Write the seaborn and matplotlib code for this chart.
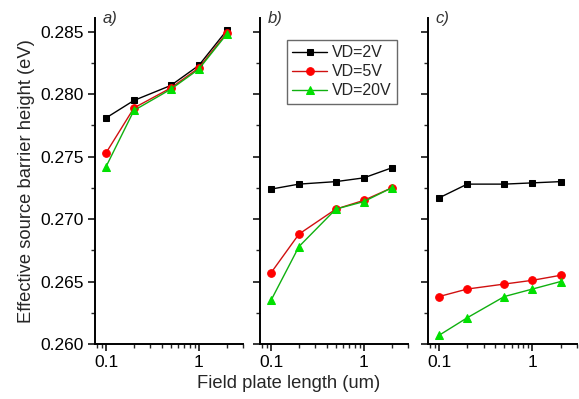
import numpy as np
import pandas as pd
import seaborn as sns
import matplotlib
matplotlib.use("Agg")
import matplotlib.pyplot as plt
from matplotlib.ticker import LogLocator, FixedLocator, MultipleLocator, FixedFormatter, NullFormatter

sns.set_theme(style="ticks")
plt.rcParams['font.family'] = ['Liberation Sans', 'DejaVu Sans']

# Field plate lengths (um)
lengths = [0.1, 0.2, 0.5, 1, 2]
series_names = ["VD=2V", "VD=5V", "VD=20V"]

# Effective source barrier height (eV) per panel
panel_a = {
    "VD=2V": [0.2781, 0.2795, 0.2807, 0.2823, 0.2851],
    "VD=5V": [0.2753, 0.2789, 0.2805, 0.2821, 0.2849],
    "VD=20V": [0.2742, 0.2787, 0.2804, 0.2820, 0.2848],
}
panel_b = {
    "VD=2V": [0.2724, 0.2728, 0.2730, 0.2733, 0.2741],
    "VD=5V": [0.2657, 0.2688, 0.2708, 0.2715, 0.2725],
    "VD=20V": [0.2635, 0.2678, 0.2708, 0.2714, 0.2725],
}
panel_c = {
    "VD=2V": [0.2717, 0.2728, 0.2728, 0.2729, 0.2730],
    "VD=5V": [0.2638, 0.2644, 0.2648, 0.2651, 0.2655],
    "VD=20V": [0.2607, 0.2621, 0.2638, 0.2644, 0.2650],
}
panel_tags = ["a)", "b)", "c)"]

colors = {"VD=2V": "black", "VD=5V": "#ff0000", "VD=20V": "#00e000"}
line_colors = {"VD=2V": "black", "VD=5V": "#d01010", "VD=20V": "#10b010"}
markers = {"VD=2V": "s", "VD=5V": "o", "VD=20V": "^"}
msizes = {"VD=2V": 4.8, "VD=5V": 5.5, "VD=20V": 6.2}

W, H = 579, 399
fig = plt.figure(figsize=(W / 100, H / 100), dpi=100)

boxes = [(95, 148), (260, 148), (428, 149)]
top_px, bot_px = 18, 344

for i, (data, tag, (lx, wd)) in enumerate(zip([panel_a, panel_b, panel_c], panel_tags, boxes)):
    ax = fig.add_axes([lx / W, (H - bot_px) / H, wd / W, (bot_px - top_px) / H])
    ax.set_xscale("log")
    rows = []
    for name in series_names:
        for x, y in zip(lengths, data[name]):
            rows.append({"x": x, "y": y, "s": name})
    df = pd.DataFrame(rows)
    for name in series_names:
        sub = df[df["s"] == name]
        sns.lineplot(data=sub, x="x", y="y", ax=ax, color=line_colors[name],
                     marker=markers[name], markersize=msizes[name],
                     markerfacecolor=colors[name], markeredgecolor=colors[name],
                     linewidth=1.0, label=name if i == 1 else None, legend=False)
    ax.set_xlim(0.076, 3.0)
    ax.set_ylim(0.260, 0.2861)
    ax.xaxis.set_major_locator(FixedLocator([0.1, 1]))
    ax.xaxis.set_major_formatter(FixedFormatter(["0.1", "1"]))
    ax.xaxis.set_minor_locator(LogLocator(base=10, subs=np.arange(2, 10)))
    ax.xaxis.set_minor_formatter(NullFormatter())
    ax.yaxis.set_major_locator(MultipleLocator(0.005))
    ax.yaxis.set_minor_locator(MultipleLocator(0.0025))
    if i == 0:
        ax.set_yticks([0.260, 0.265, 0.270, 0.275, 0.280, 0.285])
        ax.set_yticklabels(["0.260", "0.265", "0.270", "0.275", "0.280", "0.285"])
        ax.set_ylabel("Effective source barrier height (eV)", fontsize=13.2, labelpad=4)
    else:
        ax.set_yticklabels([])
        ax.set_ylabel("")
    ax.set_xlabel("")
    for side in ["top", "right"]:
        ax.spines[side].set_visible(False)
    for side in ["left", "bottom"]:
        ax.spines[side].set_linewidth(1.4)
        ax.spines[side].set_color("black")
    ax.tick_params(which="major", direction="out", length=5, width=1.1, labelsize=12.5, colors="black", pad=3)
    ax.tick_params(which="minor", direction="out", length=3, width=1.0)
    ax.text(0.05, 1.02, tag, transform=ax.transAxes, fontsize=12, style="italic",
            color="#333333", ha="left", va="top", clip_on=False)
    if i == 1:
        leg = ax.legend(loc="upper left", bbox_to_anchor=(0.18, 0.933), fontsize=11.5,
                        frameon=True, fancybox=False, edgecolor="#444444",
                        handlelength=2.2, borderpad=0.35, labelspacing=0.25,
                        handletextpad=0.3, borderaxespad=0.0)
        leg.get_frame().set_linewidth(1.0)

fig.text(289 / W, 1 - 383 / H, "Field plate length (um)", ha="center", va="center", fontsize=13.2)

fig.savefig("out.png", dpi=100)
